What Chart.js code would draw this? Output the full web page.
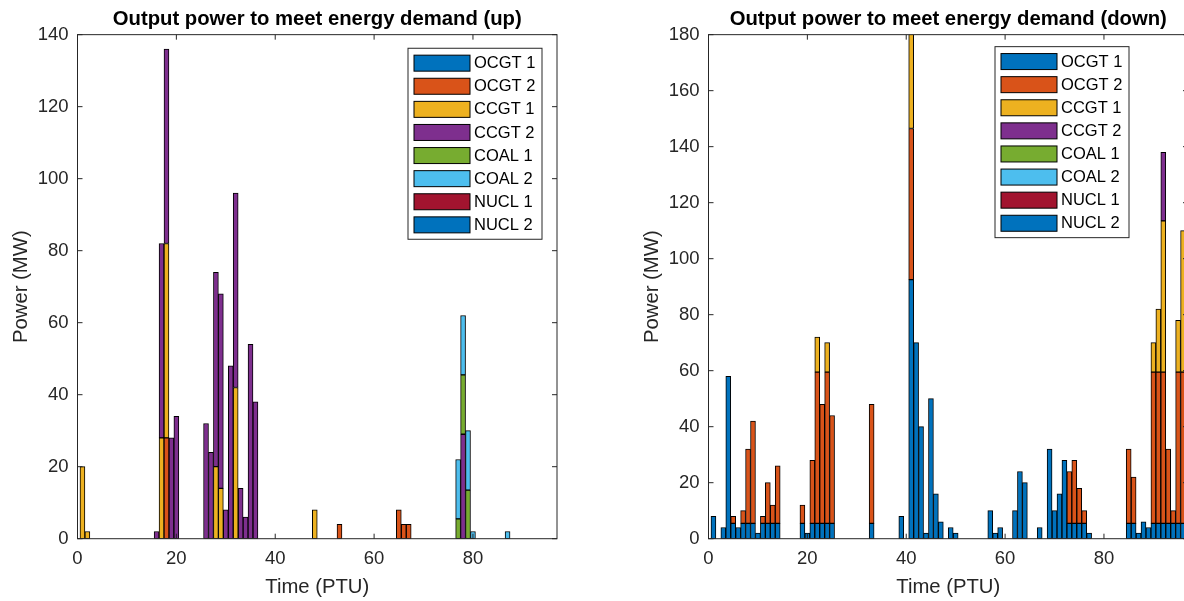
<!DOCTYPE html>
<html>
<head>
<meta charset="utf-8">
<script src="https://cdn.jsdelivr.net/npm/chart.js@4.4.1/dist/chart.umd.min.js"></script>
<style>
  html, body { margin: 0; padding: 0; background: #fff; overflow: hidden; }
  .panel { position: absolute; top: 0; width: 600px; height: 601px; }
  #upPanel { left: 0; }
  #downPanel { left: 631px; }
</style>
</head>
<body>
<div class="panel" id="upPanel"><canvas id="upChart"></canvas></div>
<div class="panel" id="downPanel"><canvas id="downChart"></canvas></div>
<script>
const unitNames = ["OCGT 1", "OCGT 2", "CCGT 1", "CCGT 2", "COAL 1", "COAL 2", "NUCL 1", "NUCL 2"];
const unitColors = ["#0072BD", "#D95319", "#EDB120", "#7E2F8E", "#77AC30", "#4DBEEE", "#A2142F", "#0072BD"];

// [PTU, MW] pairs, only the non-zero ones
const upOCGT1 = [];
const upOCGT2 = [[18, 28], [53, 4], [65, 8], [66, 4], [67, 4]];
const upCCGT1 = [[1, 20], [2, 2], [17, 28], [18, 54], [28, 20], [29, 14], [32, 42], [48, 8]];
const upCCGT2 = [[16, 2], [17, 54], [18, 54], [19, 28], [20, 34], [26, 32], [27, 24], [28, 54], [29, 54],
  [30, 8], [31, 48], [32, 54], [33, 14], [34, 6], [35, 54], [36, 38], [78, 29]];
const upCOAL1 = [[77, 5.5], [78, 16.5], [79, 13.5]];
const upCOAL2 = [[77, 16.5], [78, 16.5], [79, 16.5], [80, 2], [87, 2]];
const upNUCL1 = [];
const upNUCL2 = [];

const downOCGT1 = [[1, 8], [3, 4], [4, 58], [5, 5.5], [6, 4], [7, 5.5], [8, 5.5], [9, 5.5], [10, 2], [11, 5.5],
  [12, 5.5], [13, 5.5], [14, 5.5], [19, 5.5], [20, 2], [21, 5.5], [22, 5.5], [23, 5.5], [24, 5.5], [25, 5.5],
  [33, 5.5], [39, 8], [41, 92.5], [42, 70], [43, 40], [44, 2], [45, 50], [46, 16], [47, 6], [49, 4], [50, 2],
  [57, 10], [58, 2], [59, 4], [62, 10], [63, 24], [64, 20], [67, 4], [69, 32], [70, 10], [71, 16], [72, 28],
  [73, 5.5], [74, 5.5], [75, 5.5], [76, 5.5], [77, 2], [85, 5.5], [86, 5.5], [87, 2], [88, 6], [89, 4],
  [90, 5.5], [91, 5.5], [92, 5.5], [93, 5.5], [94, 5.5], [95, 5.5], [96, 5.5]];
const downOCGT2 = [[5, 2.5], [7, 4.5], [8, 26.5], [9, 36.5], [11, 2.5], [12, 14.5], [13, 6.5], [14, 20.5],
  [19, 6.5], [21, 22.5], [22, 54], [23, 42.5], [24, 54], [25, 38.5], [33, 42.5], [41, 54], [73, 18.5],
  [74, 22.5], [75, 12.5], [76, 4.5], [85, 26.5], [86, 16.5], [90, 54], [91, 54], [92, 54], [93, 26.5],
  [94, 4.5], [95, 54], [96, 54]];
const downCCGT1 = [[22, 12.5], [24, 10.5], [41, 40], [90, 10.5], [91, 22.5], [92, 54], [95, 18.5], [96, 50.5]];
const downCCGT2 = [[92, 24.5]];
const downCOAL1 = [];
const downCOAL2 = [];
const downNUCL1 = [];
const downNUCL2 = [];

const xTicks = [0, 20, 40, 60, 80];
const upYTicks = [0, 20, 40, 60, 80, 100, 120, 140];
const downYTicks = [0, 20, 40, 60, 80, 100, 120, 140, 160, 180];

const fontFamily = "'Liberation Sans', Arial, sans-serif";
const axisColor = "#262626";
Chart.defaults.font.family = fontFamily;

// box around the axes, ticks pointing inward on all four sides
const framePlugin = {
  id: "frame",
  afterDatasetsDraw(chart) {
    const { ctx, chartArea: a, scales } = chart;
    ctx.save();
    ctx.strokeStyle = axisColor;
    ctx.lineWidth = 1;
    ctx.strokeRect(a.left, a.top, a.right - a.left, a.bottom - a.top);
    ctx.beginPath();
    scales.x.ticks.forEach((t) => {
      const px = scales.x.getPixelForValue(t.value);
      ctx.moveTo(px, a.bottom);
      ctx.lineTo(px, a.bottom - 5);
      ctx.moveTo(px, a.top);
      ctx.lineTo(px, a.top + 5);
    });
    scales.y.ticks.forEach((t) => {
      const py = scales.y.getPixelForValue(t.value);
      ctx.moveTo(a.left, py);
      ctx.lineTo(a.left + 5, py);
      ctx.moveTo(a.right, py);
      ctx.lineTo(a.right - 5, py);
    });
    ctx.stroke();
    ctx.restore();
  },
};

const boxLegendPlugin = {
  id: "boxLegend",
  afterDraw(chart, args, opts) {
    const { ctx, chartArea: a } = chart;
    const bx = a.left + opts.left;
    const by = a.top + opts.top;
    const rowH = 23.1;
    ctx.save();
    ctx.fillStyle = "#fff";
    ctx.fillRect(bx, by, 134, 191);
    ctx.strokeStyle = axisColor;
    ctx.lineWidth = 1;
    ctx.strokeRect(bx, by, 134, 191);
    ctx.font = "16.5px " + fontFamily;
    ctx.textBaseline = "middle";
    chart.data.datasets.forEach((ds, i) => {
      const sy = by + 6.9 + i * rowH;
      ctx.fillStyle = ds.backgroundColor;
      ctx.fillRect(bx + 6, sy, 56, 16);
      ctx.strokeStyle = "#000";
      ctx.strokeRect(bx + 6, sy, 56, 16);
      ctx.fillStyle = "#000";
      ctx.fillText(ds.label, bx + 66, sy + 8.5);
    });
    ctx.restore();
  },
};

function makeChart(canvasId, titleText, series, yMax, yTicks, legendPos) {
  const datasets = series.map((pairs, i) => ({
    label: unitNames[i],
    data: pairs.map((p) => ({ x: p[0], y: p[1] })),
    backgroundColor: unitColors[i],
    borderColor: "#000",
    borderWidth: 1,
    borderSkipped: false,
    barPercentage: 1,
    categoryPercentage: 1,
  }));

  return new Chart(document.getElementById(canvasId), {
    type: "bar",
    data: { datasets },
    plugins: [framePlugin, boxLegendPlugin],
    options: {
      responsive: true,
      maintainAspectRatio: false,
      animation: false,
      layout: { padding: { top: 0, right: 43, bottom: 0, left: 0 } },
      scales: {
        x: {
          type: "linear",
          min: 0,
          max: 97,
          offset: false,
          stacked: true,
          grid: { display: false, drawTicks: false },
          border: { display: false },
          afterBuildTicks: (s) => { s.ticks = xTicks.map((v) => ({ value: v })); },
          ticks: {
            padding: 9,
            maxRotation: 0,
            color: axisColor,
            font: { size: 18.5 },
          },
          title: {
            display: true,
            text: "Time (PTU)",
            color: axisColor,
            font: { size: 20.3 },
            padding: { top: 0, bottom: 1.8 },
          },
          afterFit: (s) => { s.height = 62.3; },
        },
        y: {
          stacked: true,
          min: 0,
          max: yMax,
          grid: { display: false, drawTicks: false },
          border: { display: false },
          afterBuildTicks: (s) => { s.ticks = yTicks.map((v) => ({ value: v })); },
          ticks: {
            padding: 9,
            color: axisColor,
            font: { size: 18.5 },
          },
          title: {
            display: true,
            text: "Power (MW)",
            color: axisColor,
            font: { size: 20.3 },
            padding: { top: 9.5, bottom: 0 },
          },
          afterFit: (s) => { s.width = 77.5; },
        },
      },
      plugins: {
        legend: { display: false },
        tooltip: { enabled: false },
        title: {
          display: true,
          fullSize: false,
          text: titleText,
          color: "#000",
          font: { size: 20.3, weight: "bold" },
          padding: { top: 6.8, bottom: 3.5 },
        },
        boxLegend: legendPos,
      },
    },
  });
}

makeChart("upChart", "Output power to meet energy demand (up)",
  [upOCGT1, upOCGT2, upCCGT1, upCCGT2, upCOAL1, upCOAL2, upNUCL1, upNUCL2],
  140, upYTicks, { left: 330.5, top: 13.6 });

makeChart("downChart", "Output power to meet energy demand (down)",
  [downOCGT1, downOCGT2, downCCGT1, downCCGT2, downCOAL1, downCOAL2, downNUCL1, downNUCL2],
  180, downYTicks, { left: 286.5, top: 12 });
</script>
</body>
</html>
